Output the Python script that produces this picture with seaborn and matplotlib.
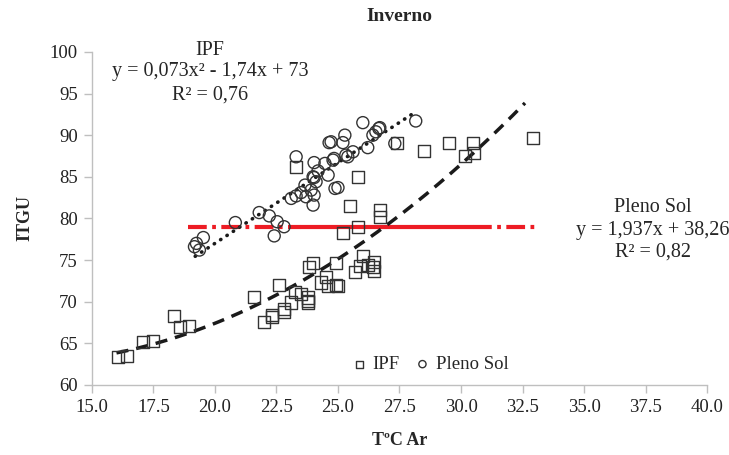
import matplotlib
matplotlib.use('Agg')
import matplotlib.pyplot as plt
import numpy as np
import pandas as pd
import seaborn as sns

# dados (Inverno)
ipf_x = [16.05, 16.42, 17.06, 17.47, 18.32, 18.60, 18.93, 21.60, 22.61, 22.00,
         22.33, 22.33, 22.81, 22.81, 23.10, 23.26, 23.50, 23.79, 23.79, 23.79,
         23.83, 23.99, 24.31, 24.51, 24.60, 24.92, 25.00, 24.92, 25.69, 25.89,
         26.01, 26.21, 26.42, 26.46, 26.46, 25.20, 25.81, 23.30, 25.81, 25.49,
         26.70, 26.70, 27.39, 28.48, 29.53, 30.47, 30.18, 30.51, 32.94]
ipf_y = [63.4, 63.5, 65.1, 65.3, 68.3, 67.0, 67.1, 70.6, 72.0, 67.6,
         68.4, 68.1, 69.1, 68.8, 69.9, 71.2, 70.9, 70.5, 70.1, 69.9,
         74.2, 74.7, 72.3, 73.0, 71.9, 72.0, 71.9, 74.7, 73.6, 74.3,
         75.5, 74.4, 74.2, 73.7, 74.8, 78.3, 79.0, 86.2, 85.0, 81.5,
         81.0, 80.2, 89.0, 88.1, 89.1, 89.1, 87.5, 87.8, 89.7]

sol_x = [19.25, 19.17, 19.37, 19.53, 20.83, 21.80, 22.21, 22.53, 22.81, 22.41,
         23.10, 23.30, 23.50, 23.70, 23.66, 23.91, 24.03, 23.99, 24.11, 23.99,
         24.19, 24.03, 23.30, 24.60, 24.47, 24.80, 24.88, 25.00, 24.64, 24.72,
         25.20, 25.28, 24.84, 25.32, 25.40, 25.61, 26.21, 26.01, 26.42, 26.54,
         26.66, 26.70, 28.16, 27.31, 24.03]
sol_y = [77.0, 76.6, 76.2, 77.7, 79.5, 80.7, 80.3, 79.6, 79.0, 77.9,
         82.4, 82.7, 83.1, 82.6, 84.0, 83.4, 82.8, 81.6, 84.4, 85.0,
         85.7, 86.7, 87.4, 85.2, 86.6, 87.0, 83.6, 83.7, 89.1, 89.2,
         89.1, 90.0, 87.2, 87.6, 87.4, 88.0, 88.5, 91.5, 90.0, 90.4,
         90.8, 90.9, 91.7, 89.0, 84.9]

# linhas de tendência (coeficientes das equações do gráfico)
ipf_coef = [0.073, -1.74, 73]
ipf_range = [16.0, 32.6]
sol_coef = [1.937, 38.26]
sol_range = [19.2, 28.2]

# linha vermelha (média)
media_valor = 79
media_x = [18.9, 23.5, 30.5, 33.0]

df = pd.DataFrame({
    'T': ipf_x + sol_x,
    'ITGU': ipf_y + sol_y,
    'grupo': ['IPF'] * len(ipf_x) + ['Pleno Sol'] * len(sol_x),
})

sns.set_style('white')
plt.rcParams['font.family'] = ['Liberation Serif', 'DejaVu Serif']

fig = plt.figure(figsize=(7.29, 4.55), dpi=100)
ax = fig.add_axes([0.126, 0.154, 0.844, 0.732])

# linha vermelha tracejada-pontilhada
red = '#ED1C24'
ax.plot(media_x[:2], [media_valor] * 2, color=red, lw=3, ls=(0, (4.5, 1.3, 0.9, 1.3)), zorder=1)
ax.plot(media_x[1:3], [media_valor] * 2, color=red, lw=3, ls='-', zorder=1)
ax.plot(media_x[2:], [media_valor] * 2, color=red, lw=3, ls=(0, (4.5, 1.3, 0.9, 1.3)), zorder=1)

markers = {'IPF': 's', 'Pleno Sol': 'o'}
for g, d in df.groupby('grupo'):
    sns.scatterplot(data=d, x='T', y='ITGU', marker=markers[g], s=75,
                    facecolor='none', edgecolor='#333333', linewidth=1.0,
                    label=g, ax=ax, zorder=3)

xq = np.linspace(ipf_range[0], ipf_range[1], 200)
ax.plot(xq, np.polyval(ipf_coef, xq), color='#1a1a1a', lw=2.5,
        ls=(0, (3.5, 2.3)), zorder=2)
xl = np.linspace(sol_range[0], sol_range[1], 50)
ax.plot(xl, np.polyval(sol_coef, xl), color='#1a1a1a', lw=2.6,
        ls=(0, (0.1, 2.0)), dash_capstyle='round', zorder=2)

ax.set_xlim(15, 40)
ax.set_ylim(60, 100)
ax.set_xticks(np.arange(15, 40.1, 2.5))
ax.set_xticklabels([f'{v:.1f}' for v in np.arange(15, 40.1, 2.5)])
ax.set_yticks(np.arange(60, 101, 5))
ax.tick_params(axis='both', labelsize=13.5, direction='out', length=6,
               color='#BFBFBF', width=1, pad=4, left=True, bottom=True,
               labelcolor='#222222')
for s in ['top', 'right']:
    ax.spines[s].set_visible(False)
for s in ['left', 'bottom']:
    ax.spines[s].set_color('#BFBFBF')
    ax.spines[s].set_linewidth(1)

ax.set_title('Inverno', fontsize=14, fontweight='bold', pad=22)
ax.set_xlabel('TºC Ar', fontsize=13, fontweight='bold', labelpad=12)
ax.set_ylabel('ITGU', fontsize=13, fontweight='bold', labelpad=12)

ax.text(19.8, 100.2, 'IPF', ha='center', va='center', fontsize=14.5)
ax.text(19.8, 97.6, 'y = 0,073x² - 1,74x + 73', ha='center', va='center', fontsize=14.5)
ax.text(19.8, 94.8, 'R² = 0,76', ha='center', va='center', fontsize=14.5)
ax.text(37.8, 81.3, 'Pleno Sol', ha='center', va='center', fontsize=14.5)
ax.text(37.8, 78.6, 'y = 1,937x + 38,26', ha='center', va='center', fontsize=14.5)
ax.text(37.8, 76.0, 'R² = 0,82', ha='center', va='center', fontsize=14.5)

ax.legend(loc='lower center', bbox_to_anchor=(0.55, -0.015), ncol=2, frameon=False,
          fontsize=13.5, markerscale=0.6, handlelength=0.8, handletextpad=0.3,
          columnspacing=0.8)

fig.savefig('out.png', dpi=100)
